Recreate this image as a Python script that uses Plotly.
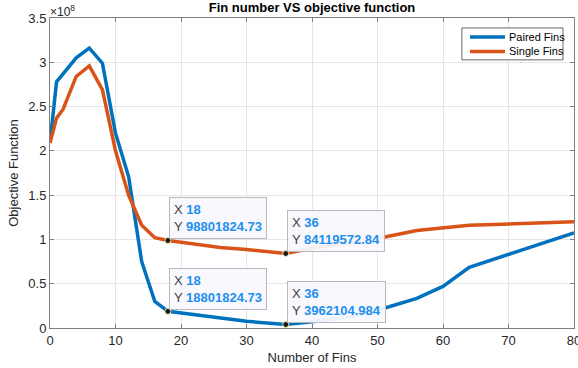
import plotly.graph_objects as go

fins = [0, 1, 2, 4, 6, 8, 10, 12, 14, 16, 18, 22, 26, 30, 36, 40, 46, 50, 56, 60, 64, 80]
paired = [2.09e8, 2.78e8, 2.87e8, 3.05e8, 3.16e8, 2.99e8, 2.20e8, 1.71e8, 0.75e8, 0.30e8,
          18801824.73, 0.15e8, 0.105e8, 0.075e8, 3962104.984, 0.07e8, 0.13e8, 0.20e8,
          0.335e8, 0.47e8, 0.685e8, 1.075e8]
single = [2.09e8, 2.37e8, 2.47e8, 2.84e8, 2.96e8, 2.69e8, 2.00e8, 1.50e8, 1.16e8, 1.02e8,
          98801824.73, 0.95e8, 0.91e8, 0.885e8, 84119572.84, 0.90e8, 0.97e8, 1.01e8,
          1.10e8, 1.13e8, 1.16e8, 1.20e8]

series_names = ["Paired Fins", "Single Fins"]
series_colors = ["#0072BD", "#D95319"]

tips_x = [18, 36, 18, 36]
tips_y = [98801824.73, 84119572.84, 18801824.73, 3962104.984]
tips_label = ["98801824.73", "84119572.84", "18801824.73", "3962104.984"]

ytick_vals = [0, 0.5e8, 1e8, 1.5e8, 2e8, 2.5e8, 3e8, 3.5e8]
ytick_text = ["0", "0.5", "1", "1.5", "2", "2.5", "3", "3.5"]
xtick_vals = [0, 10, 20, 30, 40, 50, 60, 70, 80]

FONT = "Liberation Sans, Arial, Helvetica, sans-serif"

fig = go.Figure()
for vals, name, col in zip([paired, single], series_names, series_colors):
    fig.add_trace(go.Scatter(x=fins, y=vals, mode="lines", name=name, showlegend=False,
                             line=dict(color=col, width=3.5)))
fig.add_trace(go.Scatter(x=tips_x, y=tips_y, mode="markers", showlegend=False,
                         marker=dict(color="#1a1a1a", size=6,
                                     line=dict(color="#f0e6a0", width=1))))

for xv, yv, lab in zip(tips_x, tips_y, tips_label):
    fig.add_annotation(
        x=xv, y=yv, xref="x", yref="y", xanchor="left", yanchor="bottom",
        showarrow=False, align="left", xshift=1, yshift=1,
        text=(f"<span style='color:#404040'>X </span><span style='color:#1E90F0'><b>{xv}</b></span><br>"
              f"<span style='color:#404040'>Y </span><span style='color:#1E90F0'><b>{lab}</b></span>"),
        font=dict(family=FONT, size=13),
        bgcolor="rgba(248,248,253,0.95)", bordercolor="#b8b8c0", borderwidth=1, borderpad=4,
    )

# exponent label
fig.add_annotation(x=0, y=1, xref="paper", yref="paper", xanchor="left", yanchor="bottom",
                   showarrow=False, text="×10<sup>8</sup>", xshift=-2, yshift=-3,
                   font=dict(family=FONT, size=12, color="#262626"))

# legend (MATLAB style box)
fig.add_shape(type="rect", xref="paper", yref="paper", x0=0.786, x1=0.979, y0=0.865, y1=0.968,
              line=dict(color="#262626", width=0.7), fillcolor="white", layer="above")
for i, (name, col) in enumerate(zip(series_names, series_colors)):
    yy = 0.939 - i * 0.047
    fig.add_shape(type="line", xref="paper", yref="paper", x0=0.8015, x1=0.8683, y0=yy, y1=yy,
                  line=dict(color=col, width=3.5), layer="above")
    fig.add_annotation(x=0.872, y=yy, xref="paper", yref="paper", xanchor="left", yanchor="middle",
                       showarrow=False, text=name, font=dict(family=FONT, size=11, color="black"))

fig.update_layout(
    width=578, height=368,
    margin=dict(l=50, r=4, t=18, b=40, autoexpand=False),
    paper_bgcolor="white", plot_bgcolor="white",
    title=dict(text="<b>Fin number VS objective function</b>", xref="paper", x=0.5,
               xanchor="center", yref="container", y=0.993, yanchor="top",
               font=dict(family=FONT, size=13, color="black")),
    font=dict(family=FONT, size=13, color="#262626"),
    showlegend=False,
)
fig.update_xaxes(range=[0, 80], tickvals=xtick_vals, showgrid=True, gridcolor="#e6e6e6",
                 showline=True, linecolor="#808080", linewidth=1, mirror="ticks",
                 ticks="inside", ticklen=4, tickcolor="#808080", zeroline=False,
                 ticklabeloverflow="allow",
                 title=dict(text="Number of Fins", standoff=6, font=dict(size=13, color="#262626")),
                 tickfont=dict(size=13, color="#262626"))
fig.update_yaxes(range=[0, 3.5e8], tickvals=ytick_vals, ticktext=ytick_text, showgrid=True,
                 gridcolor="#e6e6e6", showline=True, linecolor="#808080", linewidth=1,
                 mirror="ticks", ticks="inside", ticklen=4, tickcolor="#808080", zeroline=False,
                 title=dict(text="Objective Function", standoff=6, font=dict(size=13, color="#262626")),
                 tickfont=dict(size=13, color="#262626"))

fig.write_html("out.html", config={"displayModeBar": False},
               post_script="document.body.style.margin='0';")
